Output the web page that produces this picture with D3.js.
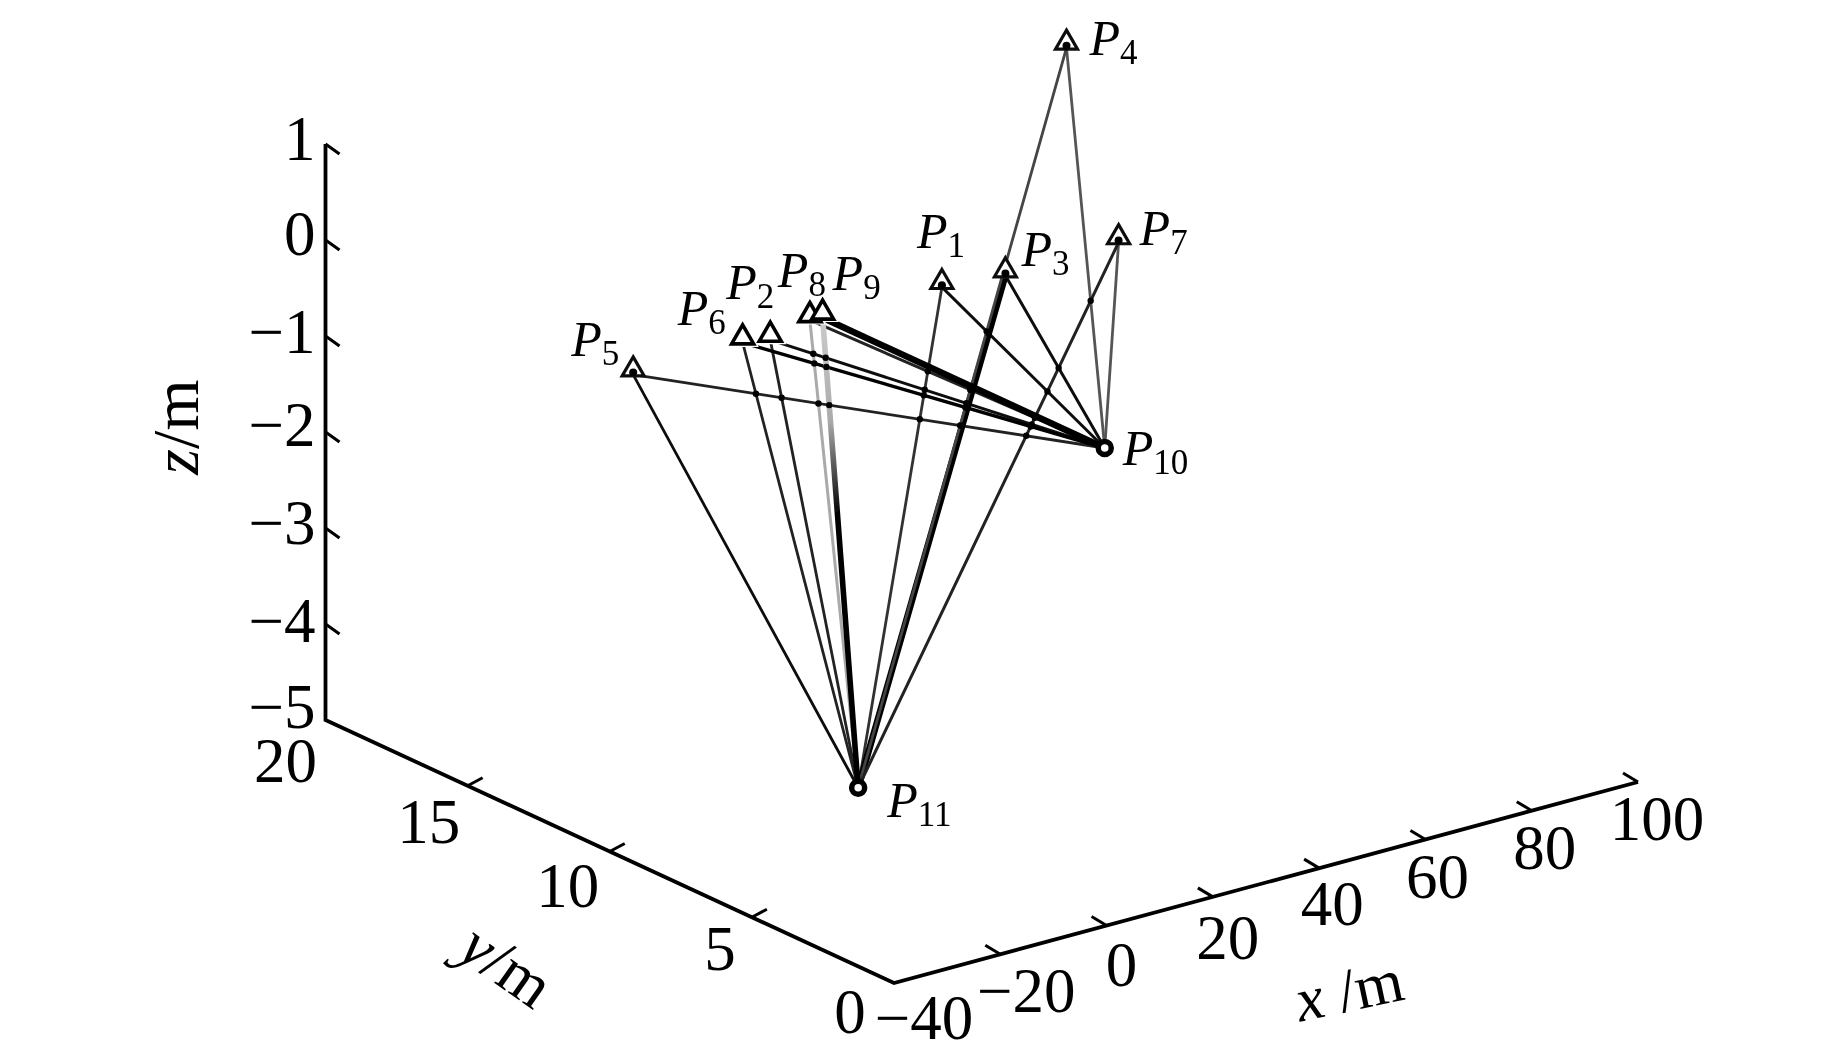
<!DOCTYPE html>
<html>
<head>
<meta charset="utf-8">
<script src="https://cdn.jsdelivr.net/npm/d3@7/dist/d3.min.js"></script>
<style>
html,body{margin:0;padding:0;background:#fff}
svg{display:block}
text{font-family:"Liberation Serif",serif;fill:#000}
</style>
</head>
<body>
<svg id="chart" width="1843" height="1063"></svg>
<script>
// Data: station names and their coordinates in metres
const pointNames = ["1","2","3","4","5","6","7","8","9"];
const pointX = [33.2, 11.6, 39.8, 35.25, -3.5, 6.4, 50.4, 13.7, 16.1];
const pointY = [12, 14, 11, 8, 16, 14, 9, 13, 13];
const pointZ = [-0.49, -0.99, -0.33, 2.52, -1.40, -0.94, 0.13, -0.68, -0.69];
const hubNames = ["10","11"];
const hubX = [26.4, -20];
const hubY = [5, 5];
const hubZ = [-1.105, -3.95];

// Axes
const xTicks = [-40,-20,0,20,40,60,80,100];
const yTicks = [0,5,10,15,20];
const zTicks = [-5,-4,-3,-2,-1,0,1];

// Styles (per link)
const linkWidth10 = [3,3,3,2.8,2.8,3.4,2.8,3,6.4];
const linkGrey10  = ["#111","#111","#111","#555","#222","#000","#555","#222","#000"];
const linkWidth11 = [2.8,2.8,6.6,2.8,2.8,2.8,3,3,5.6];
const linkGrey11  = ["#333","#222","#000","#444","#111","#222","#222","#aaa","url(#fade9)"];
const crispMarker = [false,true,false,false,false,true,false,true,true];

// Layout
const corner = {x:894, y:983};
const xEnd   = {x:1638, y:782};
const yEnd   = {x:325.5, y:720};
const zTop   = 144;

const sxAlong = d3.scaleLinear().domain([-40,100]).range([0, xEnd.x-corner.x]);
const syAlong = d3.scaleLinear().domain([-40,100]).range([0, xEnd.y-corner.y]);
const sxAcross = d3.scaleLinear().domain([0,20]).range([0, yEnd.x-corner.x]);
const syAcross = d3.scaleLinear().domain([0,20]).range([0, yEnd.y-corner.y]);
const sUp = d3.scaleLinear().domain([-5,1]).range([0, zTop-yEnd.y]);

function proj(x,y,z){
  return [corner.x + sxAlong(x) + sxAcross(y),
          corner.y + syAlong(x) + syAcross(y) + sUp(z)];
}

const svg = d3.select("#chart");
const defs = svg.append("defs");
defs.append("filter").attr("id","soft").attr("x","-5%").attr("y","-5%").attr("width","110%").attr("height","110%")
  .append("feGaussianBlur").attr("stdDeviation",0.7);

const pts = pointNames.map((n,i)=>({name:n,i,p:proj(pointX[i],pointY[i],pointZ[i])}));
const hubs = hubNames.map((n,i)=>({name:n,i,p:proj(hubX[i],hubY[i],hubZ[i])}));

const grad = defs.append("linearGradient").attr("id","fade9").attr("gradientUnits","userSpaceOnUse")
  .attr("x1",pts[8].p[0]).attr("y1",pts[8].p[1]).attr("x2",hubs[1].p[0]).attr("y2",hubs[1].p[1]);
grad.append("stop").attr("offset","0%").attr("stop-color","#ccc");
grad.append("stop").attr("offset","22%").attr("stop-color","#aaa");
grad.append("stop").attr("offset","42%").attr("stop-color","#000");
grad.append("stop").attr("offset","100%").attr("stop-color","#000");

// axes
const axes = svg.append("g").attr("fill","none").attr("stroke","#000").attr("stroke-linejoin","miter");
const axisLine = d3.line();
axes.append("path").attr("stroke-width",3.8).attr("d",axisLine([
  proj(100,0,-5), proj(-40,0,-5), proj(-40,20,-5), proj(-40,20,1)
]));
const tickLen = {x:[-15,-9], y:[15,-8], z:[14,10]};
function ticks(vals, fn, d){
  axes.selectAll(null).data(vals).join("line").attr("stroke-width",3)
    .attr("x1",v=>fn(v)[0]).attr("y1",v=>fn(v)[1])
    .attr("x2",v=>fn(v)[0]+d[0]).attr("y2",v=>fn(v)[1]+d[1]);
}
ticks(xTicks.filter(v=>v>-40), v=>proj(v,0,-5), tickLen.x);
ticks(yTicks.filter(v=>v>0&&v<20), v=>proj(-40,v,-5), tickLen.y);
ticks(zTicks.filter(v=>v>-5), v=>proj(-40,20,v), tickLen.z);

// tick labels
const tickFont = 63;
const fmt = v => (v<0 ? "\u2212"+Math.abs(v) : ""+v);
const xLabelShift = [[30,35],[26,37],[15,39],[15,41],[13,36],[12,38],[13,37],[19,37]];
const yLabelShift = [[-44,29],[-32,32],[-42,34],[-39,36],[-40,41]];
const zLabelShift = [[-10,-13],[-10,-3],[-10,-5],[-10,-7],[-10,-4],[-10,-6],[-10,-5]];
const lab = svg.append("g").attr("font-size",tickFont);
lab.selectAll(null).data(xTicks).join("text").attr("text-anchor","middle").attr("dominant-baseline","central")
  .attr("x",(v,i)=>proj(v,0,-5)[0]+xLabelShift[i][0]).attr("y",(v,i)=>proj(v,0,-5)[1]+xLabelShift[i][1]).text(fmt);
lab.selectAll(null).data(yTicks).join("text").attr("text-anchor","middle").attr("dominant-baseline","central")
  .attr("x",(v,i)=>proj(-40,v,-5)[0]+yLabelShift[i][0]).attr("y",(v,i)=>proj(-40,v,-5)[1]+yLabelShift[i][1]).text(fmt);
lab.selectAll(null).data(zTicks).join("text").attr("text-anchor","end").attr("dominant-baseline","central")
  .attr("x",(v,i)=>proj(-40,20,v)[0]+zLabelShift[i][0]).attr("y",(v,i)=>proj(-40,20,v)[1]+zLabelShift[i][1]).text(fmt);

// axis titles
function title(x,y,rot,size,parts){
  const t = svg.append("text").attr("font-size",size).attr("text-anchor","middle").attr("dominant-baseline","central")
    .attr("transform",`translate(${x},${y}) rotate(${rot})`);
  parts.forEach(([s,it])=>t.append("tspan").attr("font-style",it?"italic":"normal").text(s));
}
title(175,427,-90,66,[["z",true],["/m",false]]);
title(507,965,35,64,[["y",true],["/m",false]]);
title(1349,990,-12,62,[["x ",true],["/m",false]]);

// links
const soft = svg.append("g").attr("filter","url(#soft)");
const links = [];
pts.forEach(d=>{
  links.push({a:d.p,b:hubs[0].p,w:linkWidth10[d.i],c:linkGrey10[d.i],h:0});
  links.push({a:d.p,b:hubs[1].p,w:linkWidth11[d.i],c:linkGrey11[d.i],h:1});
});
soft.selectAll("line.link").data(links).join("line").attr("class","link")
  .attr("x1",d=>d.a[0]).attr("y1",d=>d.a[1]).attr("x2",d=>d.b[0]).attr("y2",d=>d.b[1])
  .attr("stroke",d=>d.c).attr("stroke-width",d=>d.w).attr("stroke-linecap","round");

// knots where the two link fans cross
function cross(l,m){
  const [x1,y1]=l.a,[x2,y2]=l.b,[x3,y3]=m.a,[x4,y4]=m.b;
  const den=(x1-x2)*(y3-y4)-(y1-y2)*(x3-x4);
  if(Math.abs(den)<1e-6) return null;
  const t=((x1-x3)*(y3-y4)-(y1-y3)*(x3-x4))/den;
  const u=((x1-x3)*(y1-y2)-(y1-y3)*(x1-x2))/den;
  if(t<=0.03||t>=0.95||u<=0.03||u>=0.95) return null;
  return [x1+t*(x2-x1),y1+t*(y2-y1)];
}
const knots=[];
links.filter(l=>l.h===0).forEach(l=>links.filter(m=>m.h===1).forEach(m=>{
  const c=cross(l,m); if(c) knots.push(c);
}));
soft.selectAll("circle.knot").data(knots).join("circle").attr("class","knot")
  .attr("cx",d=>d[0]).attr("cy",d=>d[1]).attr("r",3.2).attr("fill","#000");

// station markers
const tri = d3.symbol().type(d3.symbolTriangle).size(210)();
const lift = -5;
soft.selectAll("path.halo").data(pts.filter(d=>crispMarker[d.i])).join("path").attr("class","halo")
  .attr("d",tri).attr("transform",d=>`translate(${d.p[0]},${d.p[1]+lift})`)
  .attr("fill","#fff").attr("stroke","#fff").attr("stroke-width",6);
soft.selectAll("path.soft").data(pts.filter(d=>!crispMarker[d.i])).join("path").attr("class","soft")
  .attr("d",tri).attr("transform",d=>`translate(${d.p[0]},${d.p[1]+lift})`)
  .attr("fill","#fff").attr("stroke","#111").attr("stroke-width",3.2);
soft.selectAll("circle.foot").data(pts.filter(d=>!crispMarker[d.i])).join("circle").attr("class","foot")
  .attr("cx",d=>d.p[0]).attr("cy",d=>d.p[1]-2).attr("r",4).attr("fill","#000");
svg.selectAll("path.crisp").data(pts.filter(d=>crispMarker[d.i])).join("path").attr("class","crisp")
  .attr("d",tri).attr("transform",d=>`translate(${d.p[0]},${d.p[1]+lift})`)
  .attr("fill","#fff").attr("stroke","#000").attr("stroke-width",3.6).attr("stroke-linejoin","miter");

// hub markers
soft.selectAll("circle.hub").data(hubs).join("circle").attr("class","hub")
  .attr("cx",d=>d.p[0]).attr("cy",d=>d.p[1]).attr("r",6.5)
  .attr("fill","#fff").attr("stroke","#000").attr("stroke-width",5.5);

// labels
const labelShift = {
  "1":[-25,-39],"2":[-44,-41],"3":[16,-9],"4":[23,7],"5":[-62,-19],
  "6":[-65,-18],"7":[21,3],"8":[-32,-33],"9":[10,-28],"10":[18,17],"11":[29,29]
};
const subSize = 35, pSize = 50;
const allPts = pts.concat(hubs);
const names = svg.append("g");
allPts.forEach(d=>{
  const t = names.append("text").attr("font-size",pSize)
    .attr("x",d.p[0]+labelShift[d.name][0]).attr("y",d.p[1]+labelShift[d.name][1]);
  t.append("tspan").attr("font-style","italic").text("P");
  t.append("tspan").attr("font-size",subSize).attr("dy",9).text(d.name);
});
</script>
</body>
</html>
